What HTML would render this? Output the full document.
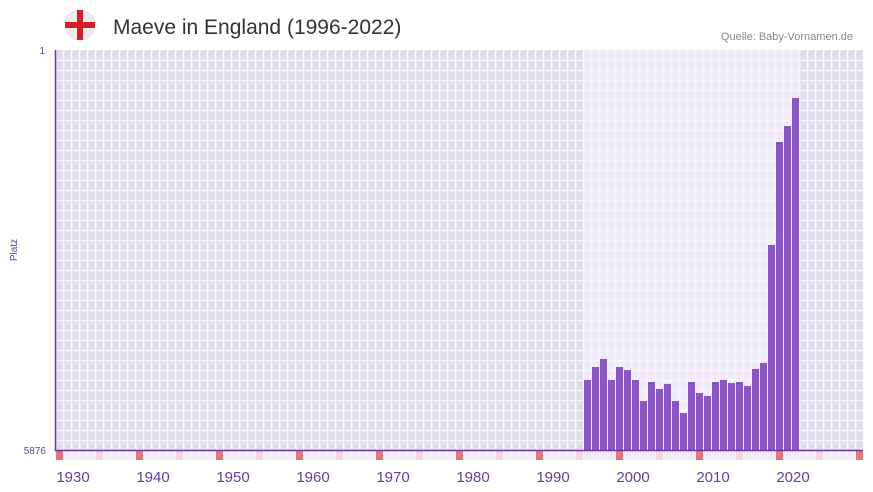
<!DOCTYPE html>
<html><head><meta charset="utf-8"><style>
body{margin:0;background:#fff;font-family:"Liberation Sans",sans-serif}
svg{display:block}
</style></head><body>
<svg width="873" height="492" viewBox="0 0 873 492" id="c">
<g>
<circle cx="80" cy="25" r="15" fill="#ececec" stroke="#e0e0e0"/>
<rect x="65" y="22" width="30" height="6" fill="#d51e2a"/>
<rect x="77" y="10" width="6" height="30" fill="#d51e2a"/>
</g>
<text x="113" y="34" font-size="21" fill="#333">Maeve in England (1996-2022)</text>
<text x="853" y="40" font-size="11" fill="#888" text-anchor="end">Quelle: Baby-Vornamen.de</text>
<text transform="translate(17,250) rotate(-90)" font-size="10" fill="#6a3aa0" text-anchor="middle">Platz</text>
<text x="45" y="54" font-size="10" fill="#6a3aa0" text-anchor="end">1</text>
<text x="46" y="454" font-size="10" fill="#6a3aa0" text-anchor="end">5876</text>
<g id="bg"></g><g id="grid"></g><g id="bars"></g><g id="marks"></g><g id="xt"></g>
<line x1="55.5" y1="50" x2="55.5" y2="451" stroke="#6a3aa0" stroke-width="1.5"/>
<line x1="55" y1="450.5" x2="863" y2="450.5" stroke="#6a3aa0" stroke-width="1.5"/>
</svg>
<script>
const years=[1994,1995,1996,1997,1998,1999,2000,2001,2002,2003,2004,2005,2006,2007,2008,2009,2010,2011,2012,2013,2014,2015,2016,2017,2018,2019,2020];
const ranks=[4848,4657,4539,4848,4657,4701,4848,5157,4877,4980,4906,5157,5333,4877,5039,5083,4877,4848,4892,4877,4936,4686,4598,2865,1352,1117,706];
const xTicks=[1930,1940,1950,1960,1970,1980,1990,2000,2010,2020];
const minYear=1928,maxYear=2028,maxRank=5876;
const NS="http://www.w3.org/2000/svg";
const X=y=>55+(y-minYear)*8;
const Y=r=>50+(r-1)/(maxRank-1)*400;
function mk(t,a,p){const e=document.createElementNS(NS,t);for(const k in a)e.setAttribute(k,a[k]);p.appendChild(e);return e;}
const bg=document.getElementById('bg'),grid=document.getElementById('grid'),bars=document.getElementById('bars'),marks=document.getElementById('marks'),xt=document.getElementById('xt');
let r=mk('rect',{x:55,y:50,width:808,height:400,fill:'#e1dcec'},bg);


let h=mk('rect',{x:X(years[0]),y:50,width:X(years[years.length-1]+1)-X(years[0]),height:400,fill:'#efebf8'},bg);


for(let y=minYear;y<=maxYear;y++){mk('line',{x1:X(y)+0.5,y1:50,x2:X(y)+0.5,y2:460,stroke:'#f7f5fb','stroke-width':1.6},grid);}
for(let v=60;v<450;v+=10){mk('line',{x1:55,y1:v+0.5,x2:863,y2:v+0.5,stroke:'#f7f5fb','stroke-width':1.6},grid);}
for(let y=minYear;y<=maxYear;y++){
 const d=y%10;let c=d===8?'#e8737b':(d===3?'#f4d6e0':'#efebf8');
 const m=mk('rect',{x:X(y)+1,y:451,width:7,height:9,fill:c},marks);
 
 
}
years.forEach((yr,i)=>{
 const b=mk('rect',{x:X(yr)+1,y:Y(ranks[i]),width:7,height:450-Y(ranks[i]),fill:'#8a55c7'},bars);
 
 
});
xTicks.forEach(t=>{
 const e=mk('text',{x:X(t)+2,y:482,'font-size':15,fill:'#6a3aa0','text-anchor':'middle'},xt);
 e.textContent=t;
 
 
});
</script>
</body></html>
